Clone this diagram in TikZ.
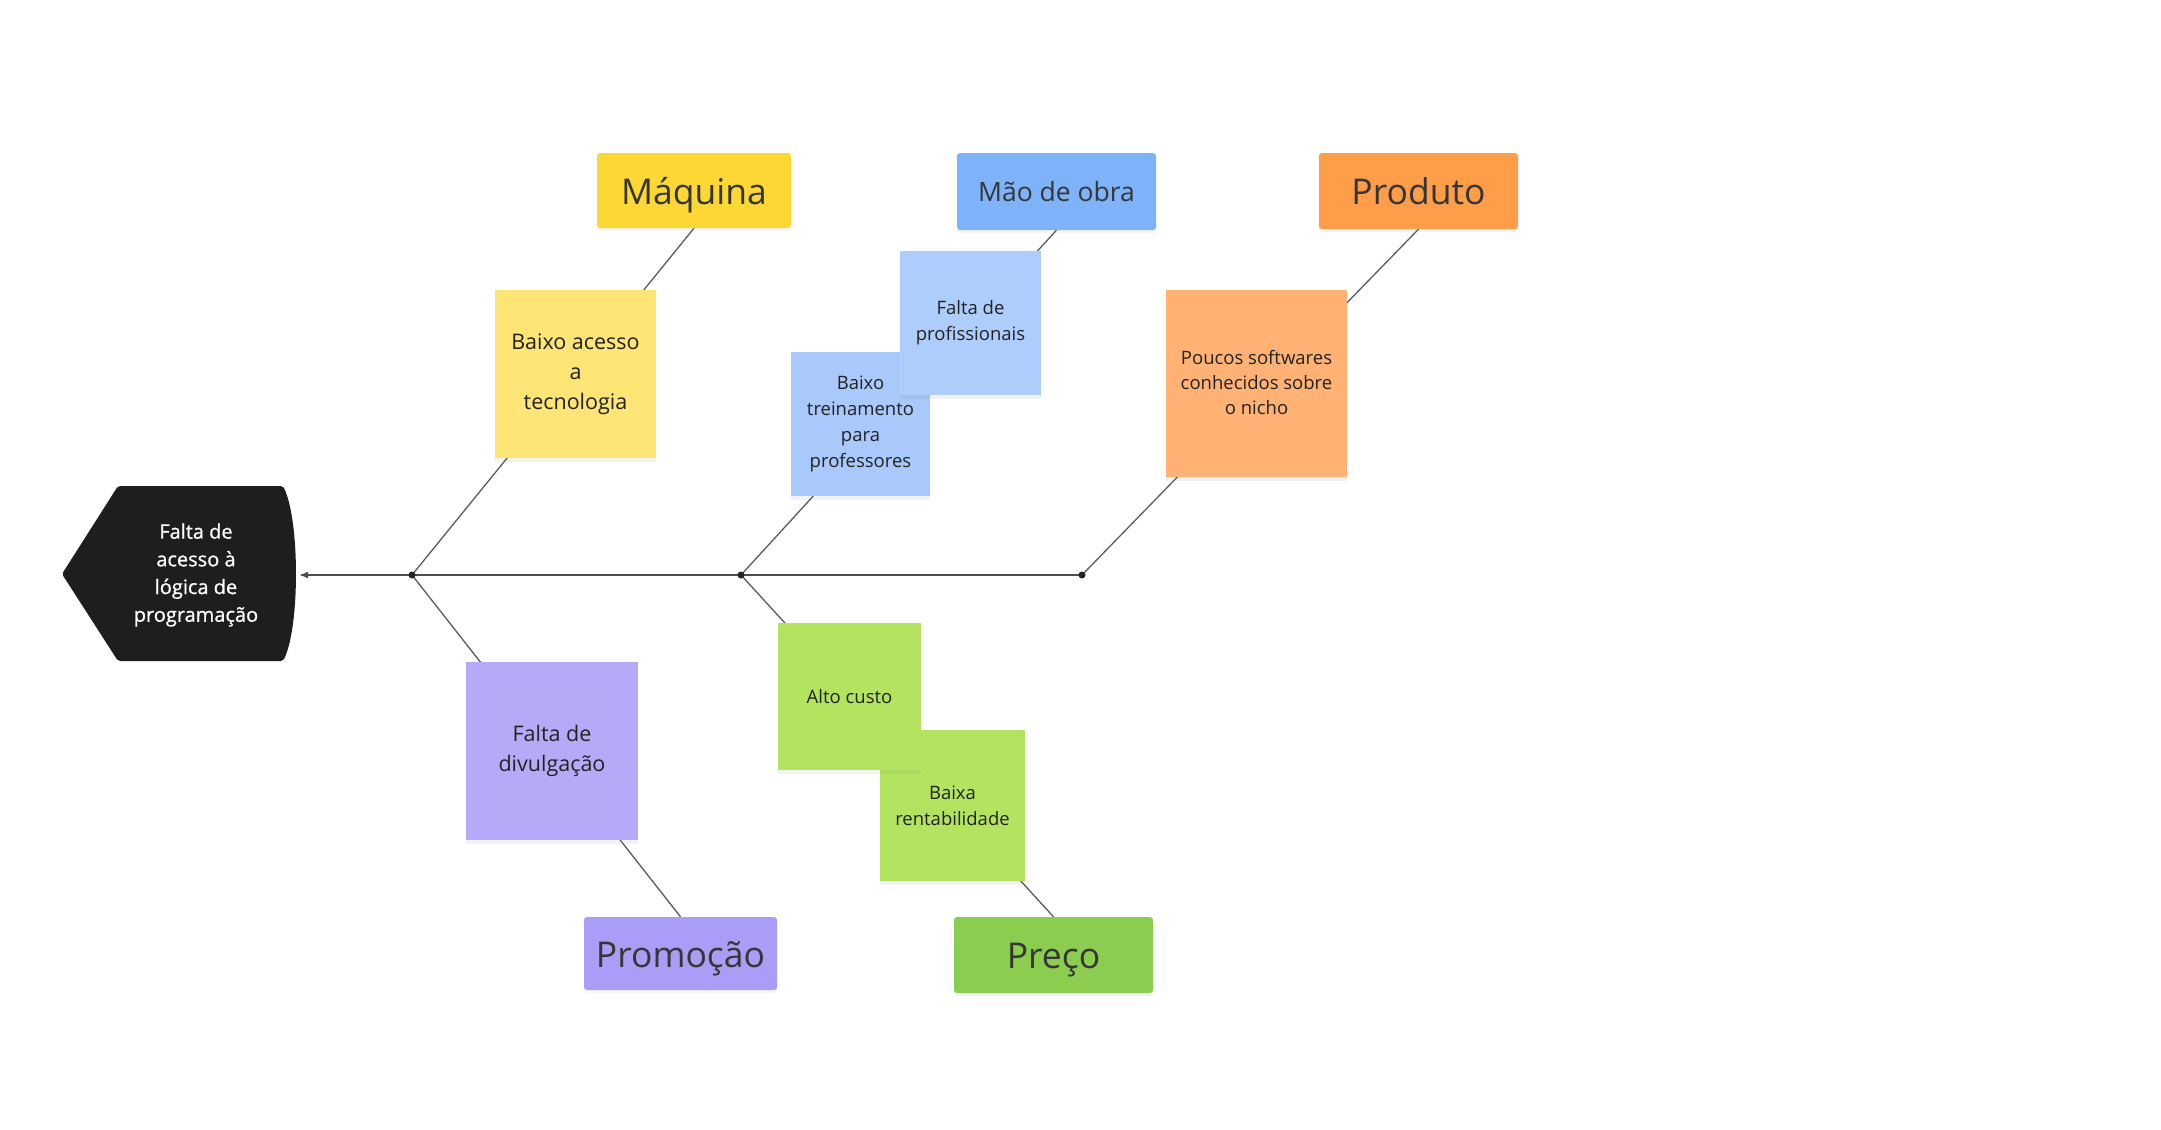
\documentclass[tikz,border=0pt]{standalone}
\usepackage{fontspec}
\setmainfont{Open Sans}
\newfontfamily\headfont[FakeBold=0.8]{Open Sans}
\usetikzlibrary{arrows.meta,shadows}
\pgfdeclarelayer{paper}
\pgfdeclarelayer{bg}
\pgfsetlayers{paper,bg,main}
\definecolor{cMaq}{HTML}{FDD835}
\definecolor{cBA}{HTML}{FEE575}
\definecolor{cMao}{HTML}{7EB2F9}
\definecolor{cFP}{HTML}{ADCDFB}
\definecolor{cBT}{HTML}{A8C9FA}
\definecolor{cProd}{HTML}{FF9D48}
\definecolor{cPou}{HTML}{FFB273}
\definecolor{cProm}{HTML}{A99DF7}
\definecolor{cFD}{HTML}{B6AAF8}
\definecolor{cPreco}{HTML}{8BCE4F}
\definecolor{cGreen}{HTML}{B3E35F}
\definecolor{cHead}{HTML}{1E1E1E}
\definecolor{catText}{HTML}{363636}
\definecolor{stText}{HTML}{222222}
\definecolor{lineC}{HTML}{5C5C5C}
\newcommand\myfs[2]{\fontsize{#1}{#2}\selectfont}
\begin{document}
\begin{tikzpicture}[x=1pt,y=-1pt,
  cat/.style={rectangle, rounded corners=3pt, inner sep=0pt, align=center, text=catText,
    text depth=0pt,
    drop shadow={shadow xshift=0pt, shadow yshift=-3pt, opacity=0.08}},
  sticky/.style={rectangle, inner sep=0pt, align=center, text=stText,
    drop shadow={shadow xshift=0pt, shadow yshift=-4pt, opacity=0.10}},
  bigcat/.style={cat, font=\myfs{35.5}{42}, text height=27pt},
  bigst/.style={sticky, font=\myfs{21.5}{30}},
  smallst/.style={sticky, font=\myfs{18.5}{25.8}},
  branch/.style={draw=lineC, line width=1.3pt},
  spine/.style={draw=lineC!85!black, line width=1.6pt},
  jdot/.style={fill=black!85}
]
\useasboundingbox (0,0) rectangle (2161,1130);
\begin{pgfonlayer}{paper}
  \fill[white] (0,0) rectangle (2161,1130);
\end{pgfonlayer}

% junctions on the spine
\coordinate (j1) at (412,575);
\coordinate (j2) at (741,575);
\coordinate (j3) at (1082,575);
\coordinate (headtip) at (299,575);

% head (effect)
\fill[cHead, rounded corners=2pt] (62,574) -- (118,486) -- (283,486)
  .. controls (300,520) and (300,628) .. (283,661) -- (118,661) -- cycle;
\node[text=white, align=center, font=\headfont\myfs{20}{27.7}] (headtxt) at (196,575)
  {Falta de\\acesso à\\lógica de\\programação};

% categories
\node[bigcat, fill=cMaq, minimum width=194pt, minimum height=75pt] (maq) at (694,190.5) {Máquina};
\node[cat, fill=cMao, minimum width=199pt, minimum height=77pt, font=\myfs{26.5}{32}, text height=19.5pt] (mao) at (1056.5,191.5) {Mão de obra};
\node[bigcat, fill=cProd, minimum width=199pt, minimum height=76pt] (prod) at (1418.5,191) {Produto};
\node[bigcat, fill=cProm, minimum width=193pt, minimum height=73pt] (prom) at (680.5,953.5) {Promoção};
\node[bigcat, fill=cPreco, minimum width=199pt, minimum height=76pt] (preco) at (1053.5,955) {Preço};

% causes (sticky notes)
\node[bigst, fill=cBA, minimum width=161pt, minimum height=168pt] (ba) at (575.5,374) {Baixo acesso\\a\\tecnologia};
\node[smallst, fill=cBT, minimum width=139pt, minimum height=144pt] (bt) at (860.5,424) {Baixo\\treinamento\\para\\professores};
\node[smallst, fill=cFP, minimum width=141pt, minimum height=144pt] (fp) at (970.5,323) {Falta de\\profissionais};
\node[smallst, fill=cPou, minimum width=181pt, minimum height=187pt, font=\myfs{18.5}{25}] (pou) at (1256.5,383) {Poucos softwares\\conhecidos sobre\\o nicho};
\node[bigst, fill=cFD, minimum width=172pt, minimum height=178pt] (fd) at (552,751) {Falta de\\divulgação};
\node[smallst, fill=cGreen, minimum width=145pt, minimum height=151pt] (br) at (952.5,805.5) {Baixa\\rentabilidade};
\node[smallst, fill=cGreen, minimum width=143pt, minimum height=147pt] (ac) at (849.5,696.5) {Alto custo};

% connectors (behind the notes)
\begin{pgfonlayer}{bg}
  \draw[branch] (j1) -- (maq.south);
  \draw[branch] (j1) -- (prom.north);
  \draw[branch] (j2) -- (mao.south);
  \draw[branch] (j2) -- (preco.north);
  \draw[branch] (j3) -- (prod.south);
  \draw[spine, -{Latex[length=9pt,width=7pt]}] (j3) -- (headtip);
  \fill[jdot] (j1) circle (3.5);
  \fill[jdot] (j2) circle (3.5);
  \fill[jdot] (j3) circle (3.5);
\end{pgfonlayer}
\end{tikzpicture}
\end{document}
